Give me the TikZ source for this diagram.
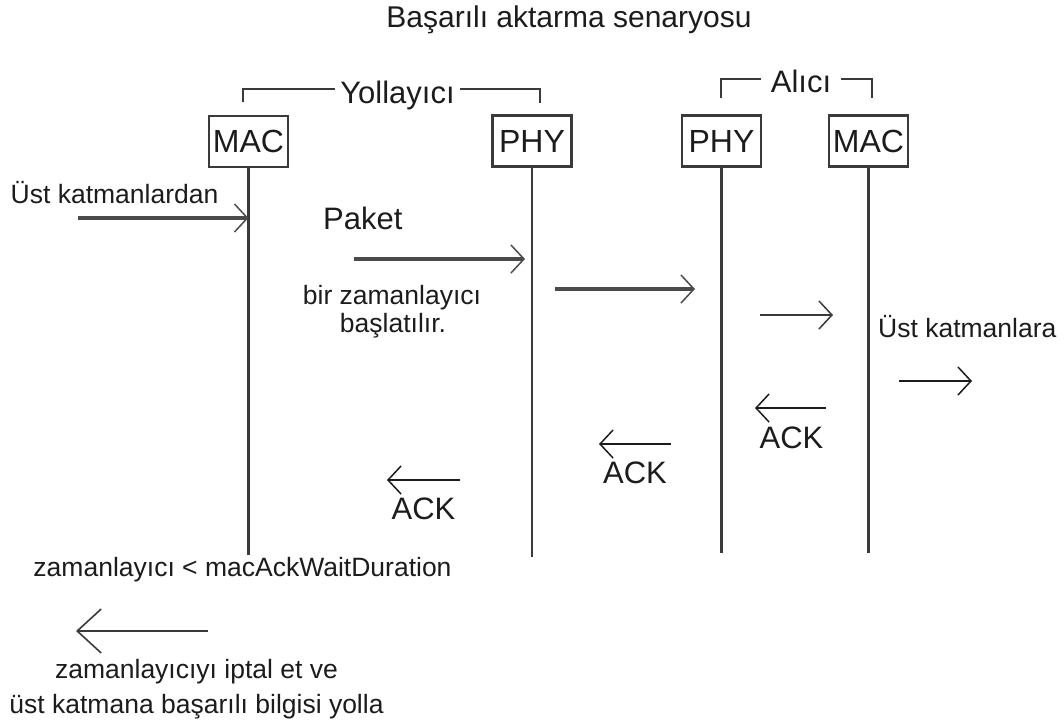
\documentclass[tikz,border=0pt]{standalone}
\usepackage{fontspec}
\setmainfont{Liberation Sans}
\usetikzlibrary{arrows.meta}
\definecolor{ink}{HTML}{1C1C1C}
\definecolor{wire}{HTML}{3A3A3A}
\definecolor{shaft}{HTML}{4A4A4A}

\tikzset{
  big/.style={font=\fontsize{31}{31}\selectfont},
  small/.style={font=\fontsize{26.5}{30}\selectfont},
  txt/.style={text=ink,inner sep=0pt},
  layerbox/.style={draw=wire,line width=2.1pt,minimum width=79pt,minimum height=51pt,
    inner sep=0pt,font=\fontsize{32}{32}\selectfont,text=ink},
  lifeline/.style={draw=wire,line width=2.3pt},
  bracket/.style={draw=wire,line width=1.8pt},
  tip/.style={-{Straight Barb[length=13pt,width=28pt,line width=1.5pt 0]}},
  thickmsg/.style={draw=shaft,line width=3.3pt,tip},
  midmsg/.style={draw=wire,line width=2.2pt,tip},
  thinmsg/.style={draw=ink,line width=1.7pt,tip},
  bigmsg/.style={draw=wire,line width=2.4pt,
    -{Straight Barb[length=24pt,width=44pt,line width=1.6pt 0]}},
}

\begin{document}
\begin{tikzpicture}[x=1pt,y=-1pt]
\useasboundingbox (0,0) rectangle (1064,726);

% title
\node[txt,font=\fontsize{30}{30}\selectfont,anchor=base] (title) at (569,27) {Başarılı aktarma senaryosu};

% layer boxes
\node[layerbox] (mac1) at (248.5,141.5) {MAC};
\node[layerbox] (phy1) at (532,141) {PHY};
\node[layerbox] (phy2) at (721.5,141) {PHY};
\node[layerbox] (mac2) at (868.5,141) {MAC};

% group brackets
\node[txt,big,anchor=base,inner xsep=5pt] (sender) at (397.5,103) {Yollayıcı};
\draw[bracket] (243,102) |- (sender.west |- 0,89);
\draw[bracket] (sender.east |- 0,89) -| (540,103);
\node[txt,big,anchor=base,inner xsep=10pt] (receiver) at (801,92) {Alıcı};
\draw[bracket] (721,98) |- (receiver.west |- 0,79);
\draw[bracket] (receiver.east |- 0,79) -| (872,98);

% lifelines
\coordinate (mac1end) at (mac1.south |- 0,555);
\coordinate (phy1end) at (phy1.south |- 0,557);
\coordinate (phy2end) at (phy2.south |- 0,553);
\coordinate (mac2end) at (mac2.south |- 0,553);
\draw[lifeline] (mac1.south) -- (mac1end);
\draw[lifeline] (phy1.south) -- (phy1end);
\draw[lifeline] (phy2.south) -- (phy2end);
\draw[lifeline] (mac2.south) -- (mac2end);

% data from upper layers into the sender
\node[txt,small,anchor=base west] (fromup) at (10.5,203) {Üst katmanlardan};
\coordinate (m1s) at (78,218);
\draw[thickmsg] (m1s) -- (m1s -| mac1);

\node[txt,big,anchor=base west] (packet) at (323,229) {Paket};
\coordinate (m2s) at (354,259);
\coordinate (m2e) at (525,259);
\draw[thickmsg] (m2s) -- (m2e);
\node[txt,small,anchor=base] (timer1) at (392,304) {bir zamanlayıcı};
\node[txt,small,anchor=base] (timer2) at (393,332) {başlatılır.};

\coordinate (m3s) at (555,289);
\coordinate (m3e) at (695,289);
\draw[thickmsg] (m3s) -- (m3e);

\coordinate (m4s) at (760,315);
\coordinate (m4e) at (833,315);
\draw[midmsg] (m4s) -- (m4e);

\node[txt,small,anchor=base west] (toup) at (878,337) {Üst katmanlara};
\coordinate (m5s) at (899,381);
\coordinate (m5e) at (972,381);
\draw[thinmsg] (m5s) -- (m5e);

% acknowledgements travelling back
\coordinate (a1s) at (826,408);
\coordinate (a1e) at (755,408);
\draw[thinmsg] (a1s) -- (a1e);
\node[txt,big,anchor=base] (ack1) at (791.5,448) {ACK};

\coordinate (a2s) at (671,444);
\coordinate (a2e) at (599,444);
\draw[thinmsg] (a2s) -- (a2e);
\node[txt,big,anchor=base] (ack2) at (635,483) {ACK};

\coordinate (a3s) at (460,480);
\coordinate (a3e) at (387,480);
\draw[thinmsg] (a3s) -- (a3e);
\node[txt,big,anchor=base] (ack3) at (423.5,519) {ACK};

% result reported to the upper layer
\node[txt,small,anchor=base] (cond) at (242.5,576) {zamanlayıcı < macAckWaitDuration};
\coordinate (r1s) at (208,631);
\coordinate (r1e) at (76,631);
\draw[bigmsg] (r1s) -- (r1e);
\node[txt,small,anchor=base] (done1) at (196.5,678) {zamanlayıcıyı iptal et ve};
\node[txt,small,anchor=base] (done2) at (196.5,713) {üst katmana başarılı bilgisi yolla};
\end{tikzpicture}
\end{document}
